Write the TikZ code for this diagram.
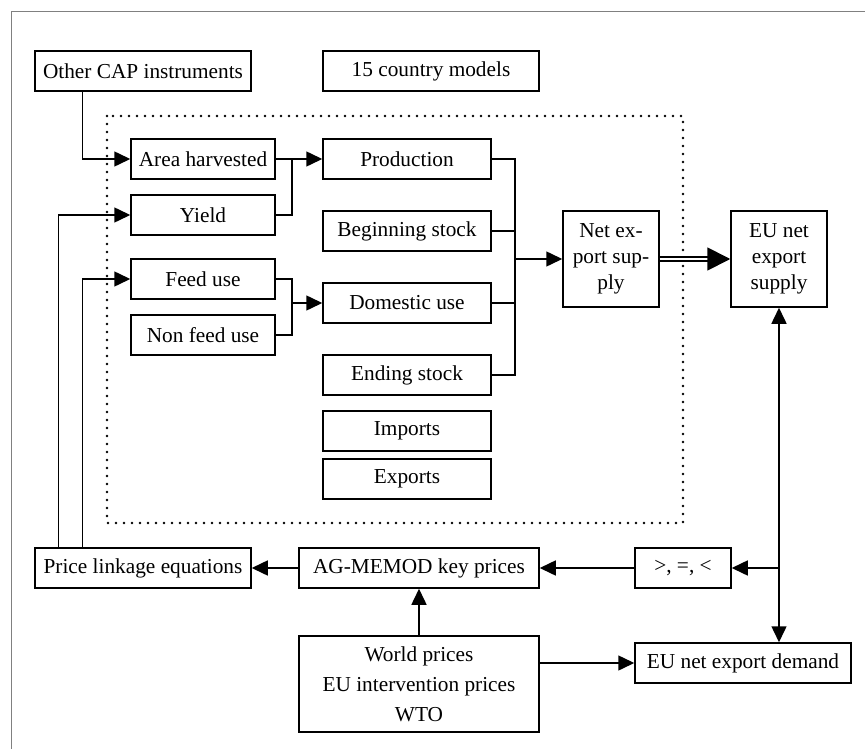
\documentclass[tikz,border=0pt]{standalone}
\usepackage{fontspec}
\setmainfont{Liberation Serif}
\usetikzlibrary{arrows.meta}

\begin{document}
\begin{tikzpicture}[x=1pt,y=-1pt,>={Triangle[length=16pt,width=15pt]},
		box/.style={draw, line width=1.5pt, inner sep=0pt, align=center, font=\fontsize{21.3}{25.7}\selectfont},
		link/.style={line width=1.5pt}]
				% page size
				\useasboundingbox (0,0) rectangle (865,749);
				
				% draw frame
				\draw[gray, line width=1pt] (11,749) -- (11,12) -- (865,12);
				
				% draw country block
				\draw[line width=2.8pt, line cap=round, dash pattern=on 0pt off 8pt] (107,116) rectangle (683,523);
				
				% draw boxes
				\node[box, minimum width=216pt, minimum height=40pt] (cap) at (143,71) {Other CAP instruments};
				\node[box, minimum width=216pt, minimum height=40pt] (models) at (431,71) {15 country models};
				\node[box, minimum width=144pt, minimum height=40pt] (area) at (203,159) {Area harvested};
				\node[box, minimum width=144pt, minimum height=40pt] (yield) at (203,215) {Yield};
				\node[box, minimum width=144pt, minimum height=40pt] (feed) at (203,279) {Feed use};
				\node[box, minimum width=144pt, minimum height=40pt] (nonfeed) at (203,335) {Non feed use};
				\node[box, minimum width=168pt, minimum height=40pt] (prod) at (407,159) {Production};
				\node[box, minimum width=168pt, minimum height=40pt] (begst) at (407,231) {Beginning stock};
				\node[box, minimum width=168pt, minimum height=40pt] (dom) at (407,303) {Domestic use};
				\node[box, minimum width=168pt, minimum height=40pt] (endst) at (407,375) {Ending stock};
				\node[box, minimum width=168pt, minimum height=40pt] (imp) at (407,431) {Imports};
				\node[box, minimum width=168pt, minimum height=40pt] (exp) at (407,479) {Exports};
				\node[box, minimum width=96pt, minimum height=96pt] (nes) at (611,259) {Net ex-\\port sup-\\ply};
				\node[box, minimum width=96pt, minimum height=96pt] (eunes) at (779,259) {EU net\\export\\supply};
				\node[box, minimum width=96pt, minimum height=40pt] (cmp) at (683,568) {>, =, <};
				\node[box, minimum width=240pt, minimum height=40pt] (key) at (419,568) {AG-MEMOD key prices};
				\node[box, minimum width=216pt, minimum height=40pt] (price) at (143,568) {Price linkage equations};
				\node[box, minimum width=240pt, minimum height=96pt, font=\fontsize{21.3}{30}\selectfont] (world) at (419,684) {World prices\\EU intervention prices\\WTO};
				\node[box, minimum width=216pt, minimum height=40pt] (eund) at (743,663) {EU net export demand};
				
				% junctions
				\coordinate (jA) at (292,159);
				\coordinate (jB) at (292,303);
				\coordinate (jC) at (515,259);
				
				% draw links into the country block
				\draw[link, ->] ([xshift=48pt]cap.south west) |- (area.west);
				\draw[link, ->] ([xshift=24pt]price.north west) |- (yield.west);
				\draw[link, ->] ([xshift=48pt]price.north west) |- (feed.west);
				
				% draw supply and use
				\draw[link, ->] (area.east) -- (prod.west);
				\draw[link] (yield.east) -| (jA);
				\draw[link] (feed.east) -| (jB);
				\draw[link] (nonfeed.east) -| (jB);
				\draw[link, ->] (jB) -- (dom.west);
				\draw[link] (prod.east) -| (jC);
				\draw[link] (endst.east) -| (jC);
				\draw[link] (begst.east) -- (begst.east -| jC);
				\draw[link] (dom.east) -- (dom.east -| jC);
				\draw[link, ->] (jC) -- (nes.west);
				
				% draw net export supply
				\draw[line width=1.8pt, double, double distance=2.5pt, -{Triangle[length=23pt,width=23pt]}] (nes.east) -- (eunes.west);
				
				% draw price loop
				\draw[link, <->] (eunes.south) -- (eunes.south |- eund.north);
				\draw[link, ->] (eunes.south |- cmp.east) -- (cmp.east);
				\draw[link, ->] (cmp.west) -- (key.east);
				\draw[link, ->] (key.west) -- (price.east);
				\draw[link, ->] (world.north) -- (key.south);
				\draw[link, ->] (world.east |- eund.west) -- (eund.west);
			\end{tikzpicture}
\end{document}
